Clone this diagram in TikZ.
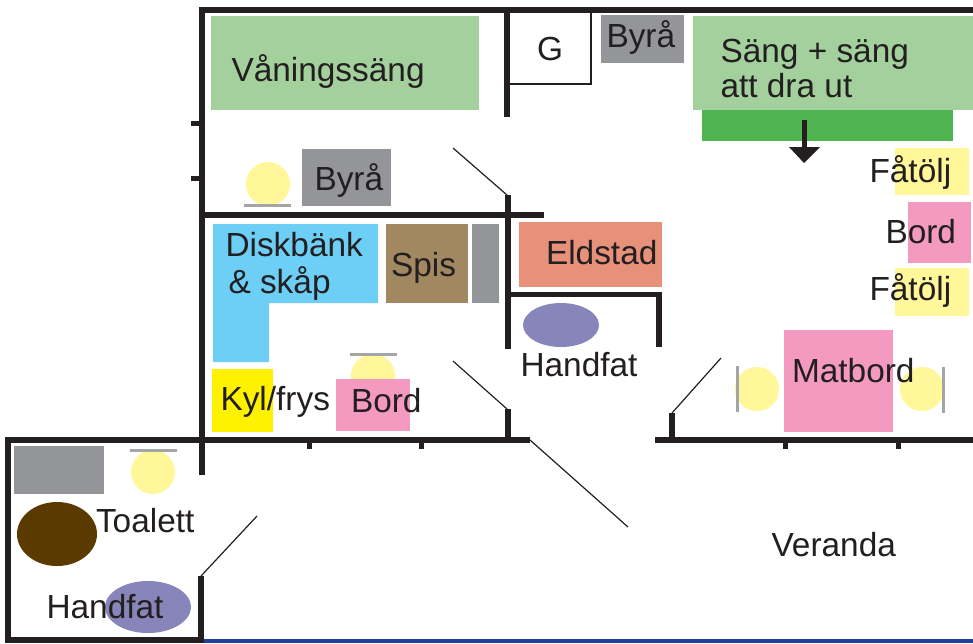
\documentclass[tikz,border=0pt]{standalone}
\usepackage{fontspec}
\setmainfont{Liberation Sans}
\definecolor{ink}{HTML}{231F20}
\definecolor{bedgreen}{HTML}{A3D09C}
\definecolor{darkgreen}{HTML}{50B450}
\definecolor{furngrey}{HTML}{939598}
\definecolor{lampyellow}{HTML}{FFF799}
\definecolor{tablepink}{HTML}{F49AC1}
\definecolor{sinkblue}{HTML}{6DCFF6}
\definecolor{stovebrown}{HTML}{A18860}
\definecolor{fireorange}{HTML}{E8917A}
\definecolor{basinblue}{HTML}{8885BA}
\definecolor{toiletbrown}{HTML}{5B3A00}
\definecolor{fridgeyellow}{HTML}{FFF200}
\definecolor{floorblue}{HTML}{21409A}
\tikzset{
  wall/.style={draw=ink,line width=5.5pt},
  thinwall/.style={draw=ink,line width=2.4pt},
  tick/.style={draw=ink,line width=5pt},
  door/.style={draw=ink,line width=1.2pt},
  lampbar/.style={draw=furngrey!85!white,line width=3pt},
  lbl/.style={anchor=base west,inner sep=0pt,outer sep=0pt,text=ink,font=\fontsize{33.4}{33.4}\selectfont},
}
\begin{document}
\begin{tikzpicture}[x=1pt,y=-1pt]
\useasboundingbox[fill=white] (0,0) rectangle (973,643);
% furniture
\fill[bedgreen] (211,16) rectangle (479,110);
\fill[furngrey] (302,149) rectangle (391,206);
\fill[lampyellow] (268,184) circle (22);
\draw[lampbar] (244,205) -- (291,205);
\fill[furngrey] (601,15) rectangle (684,63);
\fill[bedgreen] (693,16) rectangle (973,110);
\fill[darkgreen] (702,110) rectangle (953,141);
\fill[lampyellow] (895,148) rectangle (969,195);
\fill[tablepink] (908,202) rectangle (971,263);
\fill[lampyellow] (895,268) rectangle (969,316);
\fill[fireorange] (519,222) rectangle (662,287);
\fill[basinblue] (561,325) ellipse (38 and 22);
\fill[sinkblue] (213,224) -- (378,224) -- (378,303) -- (269,303) -- (269,362) -- (213,362) -- cycle;
\fill[stovebrown] (386,224) rectangle (468,303);
\fill[furngrey] (472,224) rectangle (499,303);
\fill[fridgeyellow] (212,369) rectangle (273,432);
\fill[lampyellow] (373,376) circle (22);
\draw[lampbar] (350,354) -- (397,354);
\fill[tablepink] (336,379) rectangle (410,431);
\fill[lampyellow] (757,389) circle (22);
\fill[lampyellow] (922,389) circle (22);
\fill[tablepink] (784,330) rectangle (893,432);
\draw[lampbar] (737,366) -- (737,412);
\draw[lampbar] (943,367) -- (943,413);
\fill[furngrey] (14,446) rectangle (104,494);
\fill[lampyellow] (153,472) circle (22);
\draw[lampbar] (130,450.5) -- (177,450.5);
\fill[toiletbrown] (57,534) ellipse (40 and 32);
\fill[basinblue] (148,607) ellipse (43 and 26);
% walls
\draw[wall] (199,10) -- (973,10);
\draw[wall] (202,10) -- (202,475);
\draw[tick] (191,123) -- (202,123);
\draw[tick] (191,178) -- (202,178);
\draw[wall] (202,215) -- (544,215);
\draw[wall] (507,10) -- (507,117);
\draw[wall] (508,195) -- (508,349);
\draw[thinwall] (507,84) -- (591,84) -- (591,10);
\draw[wall] (508,294.5) -- (662,294.5);
\draw[wall] (659,294.5) -- (659,347);
\draw[wall] (508,409) -- (508,438);
\draw[wall] (5,440) -- (530,440);
\draw[wall] (8,437) -- (8,643);
\draw[wall] (5,640) -- (204,640);
\draw[draw=floorblue,line width=4pt] (204,641) -- (973,641);
\draw[wall] (201,576) -- (201,643);
\draw[wall] (655,440) -- (973,440);
\draw[tick] (785,440) -- (785,449);
\draw[tick] (898,440) -- (898,449);
\draw[tick] (309,440) -- (309,449);
\draw[tick] (421,440) -- (421,449);
\draw[wall] (672,413) -- (672,438);
% doors
\draw[door] (453,148) -- (507,195);
\draw[door] (453,361) -- (507,409);
\draw[door] (530,440) -- (628,527);
\draw[door] (257,516) -- (201,576);
\draw[door] (721,358) -- (672,413);
% arrow
\draw[draw=ink,line width=5pt] (804,120) -- (804,150);
\fill[ink] (789,147) -- (820,147) -- (804,163) -- cycle;
% labels
\node[lbl] (vaningssang) at (231.5,81) {Våningssäng};
\node[lbl] (byra1) at (314.5,190) {Byrå};
\node[lbl] (garderob) at (537,60) {G};
\node[lbl] (byra2) at (606.5,47) {Byrå};
\node[lbl] (sang1) at (720.5,62) {Säng + säng};
\node[lbl] (sang2) at (720.5,97) {att dra ut};
\node[lbl] (fatolj1) at (869.5,182) {Fåtölj};
\node[lbl] (bord1) at (885.5,243) {Bord};
\node[lbl] (fatolj2) at (869.5,300) {Fåtölj};
\node[lbl] (eldstad) at (546,264) {Eldstad};
\node[lbl] (handfat1) at (520.5,376) {Handfat};
\node[lbl] (matbord) at (792,382) {Matbord};
\node[lbl] (diskbank) at (225.5,256) {Diskbänk};
\node[lbl] (skap) at (228.5,293) {\&\ skåp};
\node[lbl] (spis) at (391,276) {Spis};
\node[lbl] (kyl) at (220.5,410.5) {Kyl/frys};
\node[lbl] (bord2) at (351,412.5) {Bord};
\node[lbl] (toalett) at (96,532.5) {Toalett};
\node[lbl] (handfat2) at (46.5,618.5) {Handfat};
\node[lbl] (veranda) at (771.5,556) {Veranda};
\end{tikzpicture}
\end{document}
